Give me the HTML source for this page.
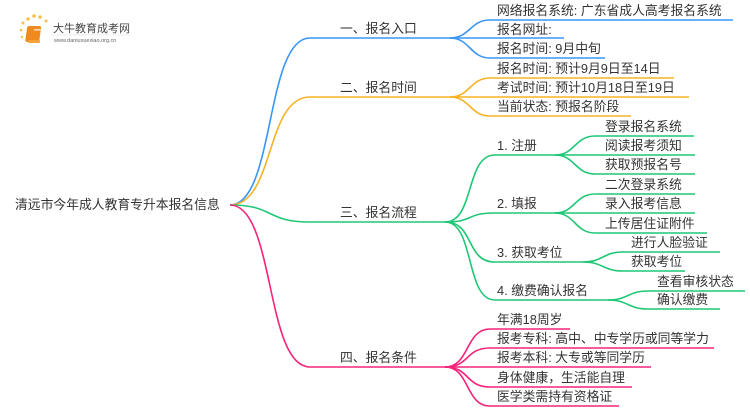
<!DOCTYPE html>
<html><head><meta charset="utf-8"><style>
html,body{margin:0;padding:0;background:#fff;width:750px;height:410px;overflow:hidden}
svg text{font-family:"Liberation Sans","Noto Sans CJK SC",sans-serif;fill:#333;font-size:12.8px}
</style></head><body>
<svg width="750" height="410" viewBox="0 0 750 410" xmlns="http://www.w3.org/2000/svg">
<g>
<circle cx="23" cy="23" r="1.5" fill="#f7c04a"/><circle cx="28" cy="19" r="1.8" fill="#f7c04a"/><circle cx="34" cy="16" r="1.8" fill="#f7c04a"/><circle cx="40" cy="17" r="1.8" fill="#f7c04a"/><circle cx="46" cy="21" r="1.5" fill="#f7c04a"/><circle cx="21" cy="30" r="1.3" fill="#f7c04a"/><circle cx="22" cy="37" r="1.2" fill="#f7c04a"/>
<rect x="31" y="26" width="14" height="16" rx="2" fill="#f08a1c" transform="skewX(-8)"/>
<rect x="28" y="40" width="12" height="3" rx="1" fill="#f5a23a"/>
<rect x="34" y="29" width="8" height="1.6" fill="#fff" opacity=".7"/>
<text x="53" y="32" style="font-size:11px;fill:#444">大牛教育成考网</text>
<line x1="52" y1="35" x2="130" y2="35" stroke="#ddd" stroke-width="0.6"/>
<text x="54" y="42" style="font-size:5.5px;fill:#666">www.daniuxuexiao.org.cn</text>
</g>
<text x="15" y="209">清远市今年成人教育专升本报名信息</text>
<g fill="none" stroke-width="1.6">
<g stroke="#3a95f5">
<path d="M230 205 C275 205 265 38 310 38 H450"/>
<path d="M450 38 C470 38 470 20 490 20 H733"/>
<path d="M450 38 H564"/>
<path d="M450 38 C470 38 470 58 490 58 H605"/>
</g>
<g stroke="#f5b324">
<path d="M230 205 C275 205 265 97 310 97 H450"/>
<path d="M450 97 C470 97 470 78 490 78 H674"/>
<path d="M450 97 H689"/>
<path d="M450 97 C470 97 470 116 490 116 H631"/>
</g>
<g stroke="#1fc776">
<path d="M230 205 C275 205 265 222 310 222 H445"/>
<path d="M445 222 C475 222 465 155 495 155 H555"/>
<path d="M445 222 C475 222 465 213 495 213 H555"/>
<path d="M445 222 C475 222 465 262 495 262 H583"/>
<path d="M445 222 C475 222 465 300 495 300 H608"/>
<path d="M555 155 C575 155 575 136 595 136 H694"/>
<path d="M555 155 H695"/>
<path d="M555 155 C575 155 575 174 595 174 H695"/>
<path d="M555 213 C575 213 575 194 595 194 H695"/>
<path d="M555 213 H695"/>
<path d="M555 213 C575 213 575 233 595 233 H707"/>
<path d="M583 262 C603 262 603 252 623 252 H720"/>
<path d="M583 262 C603 262 603 271 623 271 H685"/>
<path d="M608 300 C628 300 628 291 648 291 H745"/>
<path d="M608 300 C628 300 628 309 648 309 H720"/>
</g>
<g stroke="#f5237a">
<path d="M230 205 C275 205 265 367 310 367 H445"/>
<path d="M445 367 C470 367 465 329 490 329 H570"/>
<path d="M445 367 C470 367 465 348 490 348 H714"/>
<path d="M445 367 H651"/>
<path d="M445 367 C470 367 465 387 490 387 H632"/>
<path d="M445 367 C470 367 465 406 490 406 H619"/>
</g>
</g>
<text x="340" y="33">一、报名入口</text>
<text x="340" y="92">二、报名时间</text>
<text x="340" y="217">三、报名流程</text>
<text x="340" y="362">四、报名条件</text>
<text x="497" y="15">网络报名系统: 广东省成人高考报名系统</text>
<text x="497" y="34">报名网址:</text>
<text x="497" y="53">报名时间: 9月中旬</text>
<text x="497" y="73">报名时间: 预计9月9日至14日</text>
<text x="497" y="92">考试时间: 预计10月18日至19日</text>
<text x="497" y="111">当前状态: 预报名阶段</text>
<text x="497" y="150">1. 注册</text>
<text x="497" y="208">2. 填报</text>
<text x="497" y="257">3. 获取考位</text>
<text x="497" y="295">4. 缴费确认报名</text>
<text x="605" y="131">登录报名系统</text>
<text x="605" y="150">阅读报考须知</text>
<text x="605" y="169">获取预报名号</text>
<text x="605" y="189">二次登录系统</text>
<text x="605" y="208">录入报考信息</text>
<text x="605" y="228">上传居住证附件</text>
<text x="631" y="247">进行人脸验证</text>
<text x="631" y="266">获取考位</text>
<text x="657" y="286">查看审核状态</text>
<text x="657" y="304">确认缴费</text>
<text x="497" y="324">年满18周岁</text>
<text x="497" y="343">报考专科: 高中、中专学历或同等学力</text>
<text x="497" y="362">报考本科: 大专或等同学历</text>
<text x="497" y="382">身体健康，生活能自理</text>
<text x="497" y="401">医学类需持有资格证</text>
</svg>
</body></html>
